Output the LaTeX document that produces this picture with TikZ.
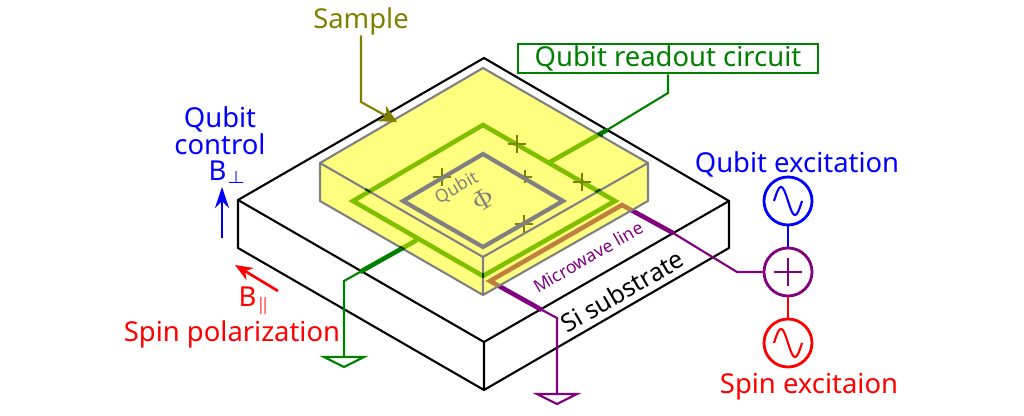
\documentclass[tikz,border=0pt]{standalone}
\usepackage{fontspec}
\setmainfont{Noto Sans}
\usepackage{amsmath,amssymb}
\usepackage{xcolor}
\usepackage{tikz}
\usetikzlibrary{arrows.meta,positioning}
\definecolor{wiregreen}{RGB}{0,128,0}
\definecolor{wirepurple}{RGB}{128,0,128}
\definecolor{labelolive}{RGB}{128,128,0}
\definecolor{samplegray}{RGB}{128,128,128}
\definecolor{sampleyellow}{RGB}{255,255,0}
\definecolor{darkgreen}{RGB}{0,70,0}
\tikzset{
  bigtext/.style={inner sep=0pt,font=\fontsize{7.8}{7.7}\selectfont},
  smalltext/.style={inner sep=0pt,rotate=30,font=\fontsize{5}{5}\selectfont},
  source/.style={circle,draw,line width=.8pt,minimum size=.48cm,inner sep=0pt},
  thickwire/.style={line width=1.3pt,line join=miter},
  thinwire/.style={line width=.6pt},
  groundtri/.style={line width=.6pt},
  edge/.style={line width=.6pt},
}
\begin{document}
\begin{tikzpicture}[x=0.01cm,y=-0.01cm]
\useasboundingbox (0,0) rectangle (1024,416);
% substrate
\coordinate (subT) at (484,58);
\coordinate (subL) at (238,200);
\coordinate (subR) at (729,201);
\coordinate (subF) at (484,342);
\coordinate (subLb) at (238,248);
\coordinate (subRb) at (729,248);
\coordinate (subFb) at (484,390);
\draw[edge,line join=round] (subT)--(subR)--(subF)--(subL)--cycle;
\draw[edge,line join=round] (subL)--(subLb)--(subFb)--(subRb)--(subR) (subF)--(subFb);
% labels and sources
\node[bigtext,text=labelolive] (samplelabel) at (361,21) {Sample};
\node[bigtext,draw=wiregreen,line width=.75pt,text=wiregreen,minimum width=3cm,minimum height=.29cm] (readbox) at (668,58.5) {Qubit readout circuit};
\node[bigtext,text=blue,align=center] (ctrllabel) at (220,131) {Qubit\\control};
\node[bigtext,text=blue] (perplabel) at (228,172) {B$_{\perp}$};
\node[bigtext,text=red] (spinlabel) at (232,334) {Spin polarization};
\node[bigtext,text=red] (parlabel) at (255,301) {B$_{\parallel}$};
\node[bigtext,text=blue] (qexlabel) at (797,164) {Qubit excitation};
\node[bigtext,text=red] (sexlabel) at (809,387) {Spin excitaion};
\node[source,draw=blue] (qsrc) at (788,201) {};
\node[source,draw=wirepurple] (mixer) at (788,272) {};
\node[source,draw=red] (ssrc) at (788,343) {};
\draw[blue,line width=.7pt] (qsrc)--(mixer);
\draw[red,line width=.7pt] (mixer)--(ssrc);
\draw[wirepurple,line width=.6pt] ([xshift=-.14cm]mixer.center)--([xshift=.14cm]mixer.center);
\draw[wirepurple,line width=.6pt] ([yshift=-.14cm]mixer.center)--([yshift=.14cm]mixer.center);
\draw[blue,line width=.6pt,smooth,domain=-14:14,variable=\x,shift={(qsrc.center)}] plot(\x,{14*sin(\x*180/14)});
\draw[red,line width=.6pt,smooth,domain=-14:14,variable=\x,shift={(ssrc.center)}] plot(\x,{14*sin(\x*180/14)});
% field arrows
\coordinate (bzfrom) at (222,238);
\coordinate (bzto) at (222,187);
\coordinate (byfrom) at (278,291);
\coordinate (byto) at (235,265);
\draw[-{Stealth[length=6pt,width=4pt]},blue,line width=.75pt] (bzfrom)--(bzto);
\draw[-{Stealth[length=5pt,width=4pt]},red,line width=.75pt] (byfrom)--(byto);
% wires under the sample
\coordinate (loopT) at (483,125);
\coordinate (loopL) at (353,201);
\coordinate (loopF) at (483,276);
\coordinate (loopR) at (615,201);
\draw[wiregreen,line width=1.3pt,line join=miter] (loopT)--(loopR)--(loopF)--(loopL)--cycle;
\coordinate (rdstart) at (550,162);
\coordinate (rdedge) at (607,130);
\coordinate (rdturn) at (668,93);
\draw[wiregreen,thickwire] (rdstart)--(rdedge);
\draw[wiregreen,thinwire] (rdedge)--(rdturn)--(readbox.south);
\coordinate (gnstart) at (417,240);
\coordinate (gnedge) at (360,272);
\coordinate (gnturn) at (344,281);
\coordinate (gnbase) at (344,357);
\draw[wiregreen,thickwire] (gnstart)--(gnedge);
\draw[wiregreen,thinwire] (gnedge)--(gnturn)--(gnbase);
\draw[wiregreen,groundtri] (324,357)--(364,357)--(344,367)--cycle;
\coordinate (mwA) at (490,281);
\coordinate (mwB) at (622,205);
\coordinate (mwAedge) at (542,310);
\coordinate (mwBedge) at (673,233);
\coordinate (mwturn) at (557,318);
\coordinate (mwbase) at (557,394);
\coordinate (mwout) at (737,272);
\draw[wirepurple,thickwire] (mwAedge)--(mwA)--(mwB)--(mwBedge);
\draw[wirepurple,thinwire] (mwBedge)--(mwout)--(mixer);
\draw[wirepurple,thinwire] (mwAedge)--(mwturn)--(mwbase);
\draw[wirepurple,groundtri] (537,394)--(577,394)--(557,404)--cycle;
\foreach \x/\y/\s in {517/144/9,442/177/9,525/177/6.5,582/182/9,524/224/9}{
  \draw[line width=.8pt] (\x-\s,\y)--(\x+\s,\y) (\x,\y-\s)--(\x,\y+\s);
}
% sample block
\coordinate (smpT) at (483,68);
\coordinate (smpL) at (320,163);
\coordinate (smpR) at (648,163);
\coordinate (smpF) at (483,257);
\coordinate (smpLb) at (320,201);
\coordinate (smpRb) at (648,201);
\coordinate (smpFb) at (483,295);
\fill[sampleyellow,fill opacity=.5] (smpT)--(smpR)--(smpRb)--(smpFb)--(smpLb)--(smpL)--cycle;
\draw[samplegray,edge,line join=round] (smpT)--(smpR)--(smpF)--(smpL)--cycle;
\draw[samplegray,edge,line join=round] (smpL)--(smpLb)--(smpFb)--(smpRb)--(smpR) (smpF)--(smpFb);
\foreach \x/\y/\dx/\dy in {368/190.6/2.5/1.45,598/190.8/2.5/-1.45,600/135/2.5/1.45,402/248/2.5/1.45,483/276/0/2.5}{
  \draw[darkgreen,edge] (\x-\dx,\y-\dy)--(\x+\dx,\y+\dy);
}
\draw[samplegray,line width=1.2pt,line join=miter] (483,154)--(563,201)--(483,247)--(403,201)--cycle;
\node[smalltext,text=samplegray] (qubitlabel) at (457,188) {Qubit};
\node[inner sep=0pt,rotate=30,text=samplegray,font=\fontsize{8.5}{9}\selectfont] (fluxlabel) at (483,200) {$\Phi$};
\node[smalltext,text=wirepurple] (mwlabel) at (588,257) {Microwave line};
\node[inner sep=0pt,rotate=30,font=\fontsize{7.1}{7}\selectfont] (silabel) at (622,291) {Si substrate};
% sample pointer
\coordinate (ptrturn) at (361,102);
\coordinate (ptrtip) at (397,122);
\draw[-{Stealth[length=5pt,width=5pt]},labelolive,line width=.6pt] (samplelabel.south -| ptrturn)--(ptrturn)--(ptrtip);
\end{tikzpicture}
\end{document}
